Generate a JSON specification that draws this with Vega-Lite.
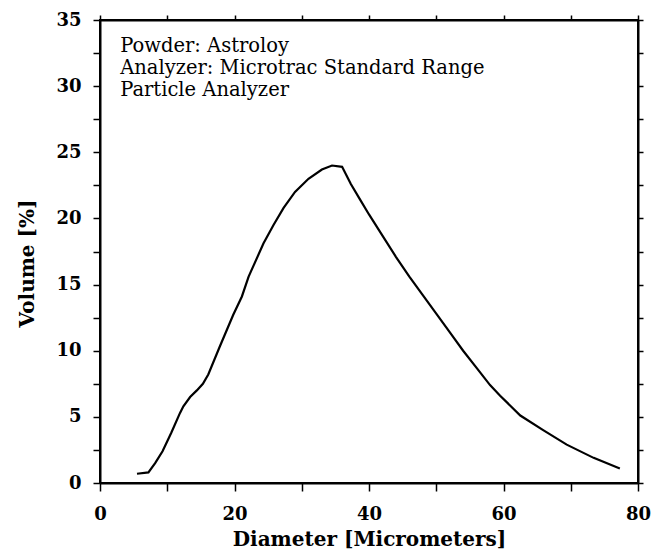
{
  "$schema": "https://vega.github.io/schema/vega-lite/v6.json",
  "autosize": "none",
  "padding": {"left": 100, "top": 20, "right": 19, "bottom": 76},
  "width": 538,
  "height": 463,
  "background": "white",
  "config": {
    "view": {"stroke": "black", "strokeWidth": 2},
    "axis": {"grid": false, "domainColor": "black", "domainWidth": 2, "tickColor": "black", "tickWidth": 1.5, "labelColor": "black", "titleColor": "black", "labelFont": "DejaVu Serif", "titleFont": "DejaVu Serif", "labelFontWeight": "bold", "titleFontWeight": "bold"}
  },
  "datasets": {
    "curve": [
      {"d": 5.5, "v": 0.7}, {"d": 7.2, "v": 0.8}, {"d": 8.2, "v": 1.5}, {"d": 9.3, "v": 2.4},
      {"d": 10.6, "v": 3.8}, {"d": 11.9, "v": 5.3}, {"d": 12.4, "v": 5.8}, {"d": 13.4, "v": 6.5},
      {"d": 14.4, "v": 7.0}, {"d": 15.3, "v": 7.5}, {"d": 16.1, "v": 8.2}, {"d": 17.8, "v": 10.3},
      {"d": 19.8, "v": 12.7}, {"d": 21.1, "v": 14.1}, {"d": 22.1, "v": 15.6}, {"d": 24.3, "v": 18.1},
      {"d": 25.8, "v": 19.5}, {"d": 27.3, "v": 20.8}, {"d": 29.0, "v": 22.0}, {"d": 31.0, "v": 23.0},
      {"d": 33.0, "v": 23.7}, {"d": 34.5, "v": 24.0}, {"d": 36.0, "v": 23.9}, {"d": 37.3, "v": 22.6},
      {"d": 38.7, "v": 21.4}, {"d": 40.0, "v": 20.3}, {"d": 42.0, "v": 18.7}, {"d": 44.0, "v": 17.1},
      {"d": 46.0, "v": 15.6}, {"d": 48.0, "v": 14.2}, {"d": 50.0, "v": 12.8}, {"d": 52.0, "v": 11.4},
      {"d": 54.0, "v": 10.0}, {"d": 56.0, "v": 8.7}, {"d": 58.0, "v": 7.4}, {"d": 59.5, "v": 6.6},
      {"d": 62.5, "v": 5.1}, {"d": 65.9, "v": 4.0}, {"d": 69.4, "v": 2.9}, {"d": 73.4, "v": 1.9},
      {"d": 77.3, "v": 1.1}
    ],
    "notes": [
      {"d": 3, "v": 33.0, "t": "Powder: Astroloy"},
      {"d": 3, "v": 31.35, "t": "Analyzer: Microtrac Standard Range"},
      {"d": 3, "v": 29.7, "t": "Particle Analyzer"}
    ]
  },
  "layer": [
    {
      "data": {"name": "curve"},
      "mark": {"type": "line", "color": "black", "strokeWidth": 2.2, "interpolate": "linear"},
      "encoding": {
        "x": {"field": "d", "type": "quantitative", "scale": {"domain": [0, 80], "nice": false},
          "axis": {"title": "Diameter  [Micrometers]", "titleFontSize": 20, "titlePadding": 6, "labelFontSize": 18, "values": [0, 10, 20, 30, 40, 50, 60, 70, 80], "labelExpr": "datum.value % 20 == 0 ? datum.label : ''", "tickSize": 8, "labelPadding": 14, "labelFlush": false}},
        "y": {"field": "v", "type": "quantitative", "scale": {"domain": [0, 35], "nice": false},
          "axis": {"title": "Volume  [%]", "titleFontSize": 20, "titlePadding": 18, "titleY": 243, "labelFontSize": 18, "values": [0, 2.5, 5, 7.5, 10, 12.5, 15, 17.5, 20, 22.5, 25, 27.5, 30, 32.5, 35], "labelExpr": "datum.value % 5 == 0 ? datum.label : ''", "tickSize": 7, "labelPadding": 12, "labelFlush": false}}
      }
    },
    {
      "data": {"name": "notes"},
      "mark": {"type": "text", "align": "left", "baseline": "middle", "font": "DejaVu Serif", "fontSize": 19.5, "color": "black"},
      "encoding": {
        "x": {"field": "d", "type": "quantitative", "scale": {"domain": [0, 80], "nice": false},
          "axis": {"orient": "top", "title": null, "labels": false, "values": [0, 10, 20, 30, 40, 50, 60, 70, 80], "tickSize": 5}},
        "y": {"field": "v", "type": "quantitative", "scale": {"domain": [0, 35], "nice": false},
          "axis": {"orient": "right", "title": null, "labels": false, "values": [0, 2.5, 5, 7.5, 10, 12.5, 15, 17.5, 20, 22.5, 25, 27.5, 30, 32.5, 35], "tickSize": 5}},
        "text": {"field": "t"}
      }
    }
  ],
  "resolve": {"axis": {"x": "independent", "y": "independent"}}
}
